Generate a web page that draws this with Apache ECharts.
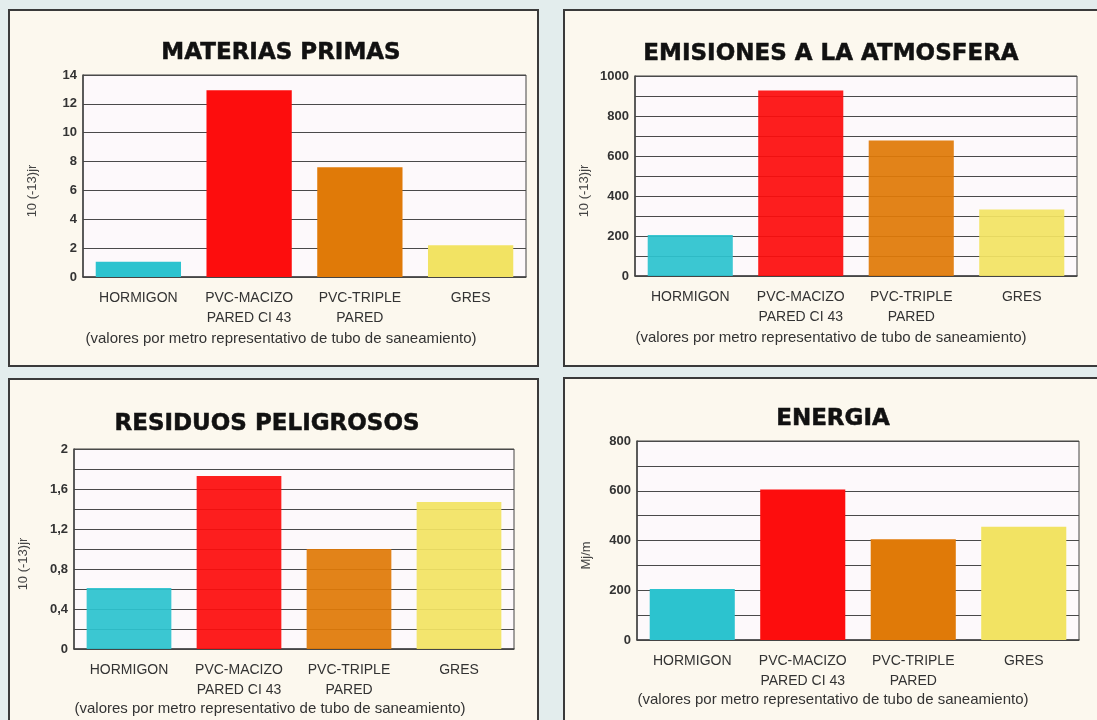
<!DOCTYPE html>
<html>
<head>
<meta charset="utf-8">
<script src="https://cdn.jsdelivr.net/npm/echarts@6/dist/echarts.min.js"></script>
<style>
  html, body { margin: 0; padding: 0; background: #e3eded; }
  #chart { width: 1097px; height: 720px; }
</style>
</head>
<body>
<div id="chart"></div>
<script>
// categorias comunes a los cuatro graficos
const categories = ['HORMIGON', 'PVC-MACIZO\nPARED CI 43', 'PVC-TRIPLE\nPARED', 'GRES']
const barColors = ['#2cc3cf', '#fd0d0d', '#e07a08', '#f2e363']

const titles = ['MATERIAS PRIMAS', 'EMISIONES A LA ATMOSFERA', 'RESIDUOS PELIGROSOS', 'ENERGIA']
const note = '(valores por metro representativo de tubo de saneamiento)'
const yNames = ['10 (-13)jr', '10 (-13)jr', '10 (-13)jr', 'Mj/m']

const materiasPrimas = [1.05, 12.95, 7.6, 2.2]
const emisiones = [205, 927, 678, 332]
const residuos = [0.61, 1.73, 1.0, 1.47]
const energia = [205, 605, 405, 455]

const yMax = [14, 1000, 2, 800]
const yStep = [2, 100, 0.2, 100]
const labelEvery = [2, 200, 0.4, 200]

const seriesData = [materiasPrimas, emisiones, residuos, energia]

// posiciones de cada panel
const panels = [
  { x: 9, y: 10, w: 529, h: 356 },
  { x: 564, y: 10, w: 540, h: 356 },
  { x: 9, y: 379, w: 529, h: 350 },
  { x: 564, y: 378, w: 540, h: 350 }
]
const grids = [
  { left: 83, top: 75, width: 443, height: 202 },
  { left: 635, top: 76, width: 442, height: 200 },
  { left: 74, top: 449, width: 440, height: 200 },
  { left: 637, top: 441, width: 442, height: 199 }
]
const titlePos = [[281, 53], [831, 54], [267, 424], [833, 419]]
const notePos = [[281, 339], [831, 338], [270, 709], [833, 700]]

const labelFont = "'Liberation Sans', sans-serif"

const graphic = []
panels.forEach(p => {
  graphic.push({
    type: 'rect',
    shape: { x: p.x, y: p.y, width: p.w, height: p.h },
    style: { fill: '#fcf8ee', stroke: '#3a3a3a', lineWidth: 2 },
    z: -10
  })
})
titles.forEach((t, i) => {
  graphic.push({
    type: 'text',
    x: titlePos[i][0],
    y: titlePos[i][1],
    style: {
      text: t,
      fill: '#111',
      stroke: '#111',
      lineWidth: 0.5,
      font: "bold 23px 'DejaVu Sans', sans-serif",
      textAlign: 'center',
      textVerticalAlign: 'middle'
    }
  })
  graphic.push({
    type: 'text',
    x: notePos[i][0],
    y: notePos[i][1],
    style: {
      text: note,
      fill: '#333',
      font: "15px 'Liberation Sans', sans-serif",
      textAlign: 'center',
      textVerticalAlign: 'middle'
    }
  })
})

const option = {
  backgroundColor: '#e3eded',
  animation: false,
  graphic: graphic,
  grid: grids.map(g => Object.assign({
    show: true,
    backgroundColor: '#fdf9fb',
    borderColor: '#444',
    borderWidth: 1
  }, g)),
  xAxis: grids.map((g, i) => ({
    type: 'category',
    gridIndex: i,
    data: categories,
    axisTick: { show: false },
    axisLine: { lineStyle: { color: '#444', width: 1.5 } },
    axisLabel: {
      color: '#333',
      fontFamily: labelFont,
      fontSize: 14,
      lineHeight: 20,
      margin: 11,
      interval: 0
    }
  })),
  yAxis: grids.map((g, i) => ({
    type: 'value',
    gridIndex: i,
    min: 0,
    max: yMax[i],
    interval: yStep[i],
    name: yNames[i],
    nameLocation: 'middle',
    nameGap: 44,
    nameTextStyle: { color: '#444', fontSize: 13, fontFamily: "'Liberation Sans', sans-serif", padding: [0, 30, 0, 0] },
    axisTick: { show: false },
    axisLine: { show: true, lineStyle: { color: '#444', width: 1.5 } },
    splitLine: { lineStyle: { color: '#4a4a4a', width: 1 } },
    axisLabel: {
      color: '#333',
      fontFamily: "'Liberation Sans', sans-serif",
      fontWeight: 'bold',
      fontSize: 13,
      margin: 6,
      formatter: v => {
        const r = Math.round(v / labelEvery[i] * 1000) / 1000
        if (Math.abs(r - Math.round(r)) > 1e-6) return ''
        return String(Math.round(v * 10) / 10).replace('.', ',')
      }
    }
  })),
  series: seriesData.map((d, i) => ({
    type: 'bar',
    xAxisIndex: i,
    yAxisIndex: i,
    data: d.map((v, k) => ({ value: v, itemStyle: { color: barColors[k] } })),
    barCategoryGap: '23%',
    itemStyle: { opacity: (i === 1 || i === 2) ? 0.93 : 1 }
  }))
}

const chart = echarts.init(document.getElementById('chart'))
chart.setOption(option)
</script>
</body>
</html>
